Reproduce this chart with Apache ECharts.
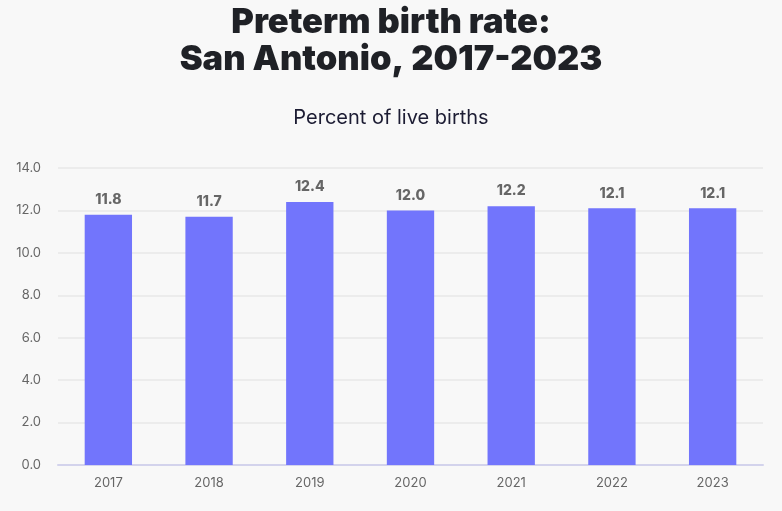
<!DOCTYPE html>
<html>
<head>
<meta charset="utf-8">
<style>
html,body{margin:0;padding:0;background:#f8f8f8;}
#chart{width:782px;height:511px;}
</style>
<script src="https://cdn.jsdelivr.net/npm/echarts@6/dist/echarts.min.js"></script>
</head>
<body>
<div id="chart"></div>
<script>
const categories = ['2017','2018','2019','2020','2021','2022','2023'];
const rates = [11.8, 11.7, 12.4, 12.0, 12.2, 12.1, 12.1];
const yTicks = { min: 0, max: 14, interval: 2 };

const chart = echarts.init(document.getElementById('chart'));
chart.setOption({
  backgroundColor: '#f8f8f8',
  title: [
    {
      text: 'Preterm birth rate:\nSan Antonio, 2017-2023',
      left: 'center',
      top: -1,
      textStyle: { fontFamily: 'Inter', fontSize: 34.5, fontWeight: 900, color: '#1f2126', lineHeight: 37 }
    },
    {
      text: 'Percent of live births',
      left: 'center',
      top: 103,
      textStyle: { fontFamily: 'Inter', fontSize: 20, fontWeight: 400, color: '#1c1c33' }
    }
  ],
  grid: { left: 58, right: 19, top: 168, bottom: 46 },
  xAxis: {
    type: 'category',
    data: categories,
    axisLine: { lineStyle: { color: '#d3d3ec', width: 2 } },
    axisTick: { show: false },
    axisLabel: { color: '#666', fontFamily: 'Inter', fontSize: 13, margin: 12 }
  },
  yAxis: {
    type: 'value',
    min: yTicks.min, max: yTicks.max, interval: yTicks.interval,
    axisLabel: { color: '#666', fontFamily: 'Inter', fontSize: 13, margin: 17,
      formatter: v => v.toFixed(1) },
    splitLine: { lineStyle: { color: '#e8e8e8', width: 1.5 } },
    axisLine: { show: false },
    axisTick: { show: false }
  },
  series: [{
    type: 'bar',
    data: rates,
    barWidth: '47%',
    itemStyle: { color: '#7275fc' },
    label: {
      show: true, position: 'top', distance: 8,
      color: '#666', fontFamily: 'Inter', fontWeight: 800, fontSize: 14,
      formatter: p => p.value.toFixed(1)
    }
  }]
});
</script>
</body>
</html>
